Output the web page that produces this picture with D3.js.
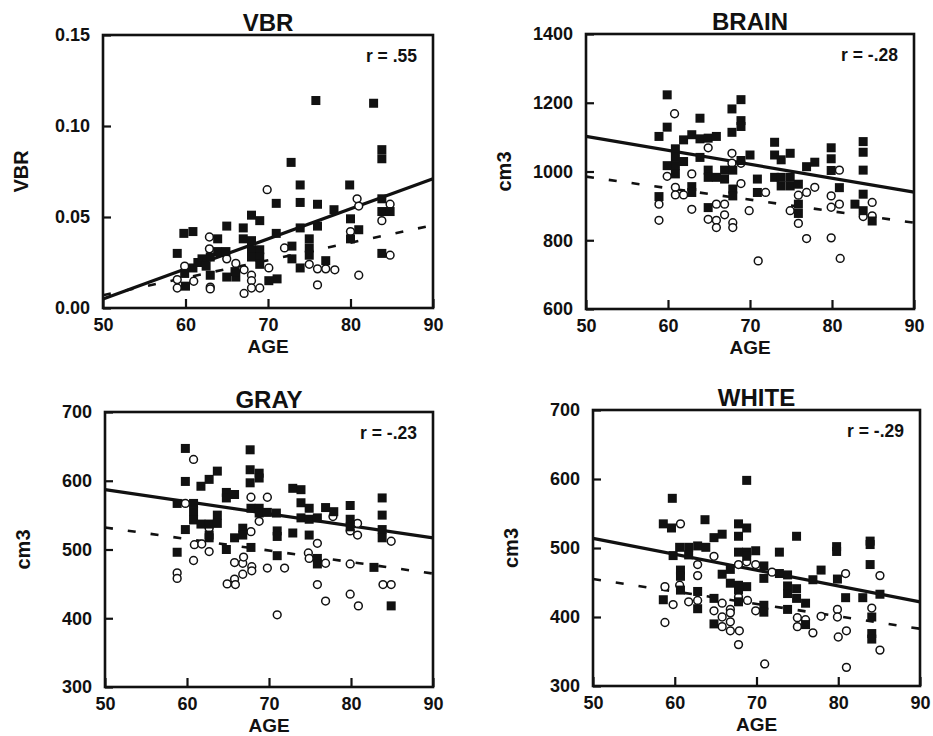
<!DOCTYPE html>
<html>
<head>
<meta charset="utf-8">
<script src="https://cdn.jsdelivr.net/npm/d3@7"></script>
<style>
  body { margin: 0; background: #fff; }
  svg text { font-family: "Liberation Sans", Arial, sans-serif; font-weight: bold; fill: #111; }
</style>
</head>
<body>
<div id="chart"></div>
<script>
// ---- data: [age, value] ----
const ageTicks = [50, 60, 70, 80, 90];

const vbrFilled = [[75.8,0.114],[82.8,0.1125],[83.8,0.087],[83.8,0.082],[72.8,0.080],[73.9,0.0676],[79.9,0.0676],
  [71.0,0.0575],[73.9,0.058],[76.0,0.057],[78.0,0.054],[83.8,0.060],[83.8,0.053],[84.8,0.053],[80.0,0.049],
  [68.0,0.051],[69.0,0.048],[65.0,0.045],[67.0,0.044],[59.8,0.041],[60.9,0.042],[71.0,0.041],[73.9,0.044],
  [76.0,0.045],[81.0,0.043],[80.0,0.038],[63.9,0.038],[67.0,0.038],[68.0,0.037],[75.0,0.038],[75.0,0.033],
  [75.0,0.029],[72.9,0.034],[59.0,0.030],[63.9,0.031],[64.9,0.031],[68.0,0.032],[69.0,0.032],[68.0,0.028],
  [69.0,0.028],[69.0,0.024],[63.0,0.028],[62.0,0.027],[83.8,0.030],[72.9,0.027],[73.9,0.022],[77.0,0.026],
  [60.9,0.022],[59.9,0.019],[63.0,0.018],[65.0,0.017],[66.1,0.017],[71.1,0.016],[70.1,0.015],[60.0,0.012],
  [61.5,0.025],[62.5,0.023],[66.0,0.020]];
const vbrOpen = [[69.9,0.065],[80.8,0.060],[81.0,0.056],[84.8,0.057],[83.8,0.048],[80.0,0.042],[62.9,0.039],
  [62.9,0.0325],[72.0,0.033],[65.0,0.027],[66.1,0.0245],[67.1,0.021],[66.1,0.0199],[59.9,0.023],[70.1,0.022],
  [68.0,0.018],[68.0,0.015],[69.0,0.011],[68.0,0.011],[75.0,0.024],[76.0,0.0215],[77.0,0.0215],[78.1,0.021],
  [81.0,0.018],[76.0,0.0127],[67.1,0.008],[63.0,0.0115],[63.0,0.0105],[59.0,0.011],[59.0,0.0156],
  [61.0,0.0147],[84.8,0.029]];
const vbrFit = { filled: [0.005, 0.071], open: [0.007, 0.0455] }; // value at age 50 and 90

const brainFilled = [[59.9,1223],[58.9,1102],[59.9,1129],[60.9,1066],[60.9,1041],[60.9,1017],[60.9,993],[59.9,1017],
  [61.9,1092],[62.9,1107],[63.9,1095],[64.9,1097],[65.9,1102],[63.9,1155],[61.9,1029],[63.9,1041],[62.9,956],
  [62.9,939],[58.9,927],[64.9,1004],[64.9,983],[65.9,983],[66.9,978],[66.9,1004],[67.9,1004],[67.9,949],
  [67.9,929],[64.9,895],[67.8,1182],[68.9,1209],[67.8,1114],[68.9,1148],[68.9,1131],[68.9,1032],[70.0,1048],
  [70.9,978],[70.9,939],[73.0,1085],[73.0,1048],[73.8,1034],[74.9,1053],[73.0,983],[73.8,983],[73.8,958],
  [74.9,983],[74.9,958],[75.9,963],[75.9,905],[75.9,878],[76.9,1014],[77.9,1027],[79.9,1069],[79.9,1037],
  [79.9,1003],[80.9,953],[83.8,1087],[83.8,1056],[83.8,1004],[83.8,934],[82.8,905],[83.8,886],[84.9,856]];
const brainOpen = [[60.8,1168],[59.9,986],[60.9,954],[60.9,932],[61.9,932],[58.9,905],[58.9,858],[62.9,993],
  [62.9,890],[64.9,1069],[67.8,1053],[67.8,1024],[68.9,1024],[68.9,965],[65.9,905],[66.9,905],[66.9,874],
  [65.9,858],[65.9,837],[64.9,861],[67.9,851],[67.9,837],[69.9,886],[71.9,939],[71.0,740],[74.9,886],
  [75.9,931],[76.9,939],[77.9,954],[75.9,849],[76.9,805],[79.9,929],[79.9,896],[80.9,905],[80.9,1004],
  [79.9,807],[81.0,747],[83.8,869],[84.9,910],[84.9,871]];
const brainFit = { filled: [1102, 940], open: [985, 851] };

const grayFilled = [[59.8,647],[67.7,645],[59.8,599],[61.7,592],[62.7,602],[63.7,614],[67.7,616],[67.7,597],
  [68.8,611],[68.8,604],[64.8,583],[64.8,575],[65.8,580],[58.8,567],[60.8,567],[60.8,555],[60.8,543],
  [61.7,537],[62.7,537],[63.7,550],[63.7,538],[59.8,529],[58.8,496],[62.7,521],[62.7,517],[65.8,517],
  [66.8,531],[66.8,521],[64.8,500],[67.8,503],[67.8,560],[68.8,560],[68.8,553],[69.8,554],[70.9,553],
  [71.0,527],[71.0,519],[71.0,491],[72.9,589],[73.9,587],[73.9,568],[74.9,560],[73.9,546],[74.9,544],
  [74.9,521],[75.9,546],[72.9,524],[75.9,487],[75.9,479],[76.9,561],[77.9,555],[79.9,564],[79.9,544],
  [79.9,533],[82.8,474],[83.8,575],[83.8,550],[83.8,529],[83.8,517],[84.9,418]];
const grayOpen = [[60.8,631],[59.8,567],[67.8,576],[69.8,576],[68.8,541],[67.8,526],[62.7,531],[60.9,507],
  [61.8,508],[62.7,497],[60.8,484],[58.8,466],[58.8,458],[65.8,481],[66.8,480],[66.9,489],[67.9,475],
  [67.9,469],[66.8,464],[65.8,457],[64.9,450],[65.9,449],[69.8,473],[71.9,473],[71.0,405],[75.9,509],
  [74.8,495],[74.9,487],[76.9,480],[75.9,449],[76.9,425],[77.8,548],[79.9,527],[80.8,538],[80.8,521],
  [79.9,479],[79.9,435],[80.9,418],[83.9,449],[84.9,449],[84.9,512]];
const grayFit = { filled: [587, 517], open: [532, 465] };

const whiteFilled = [[68.8,598],[59.7,572],[58.6,535],[59.6,529],[63.7,541],[64.8,515],[65.8,520],[67.8,535],
  [67.8,517],[68.8,529],[60.6,501],[61.7,501],[62.8,503],[63.8,501],[61.7,490],[59.8,489],[74.9,517],
  [67.8,494],[68.8,494],[69.9,496],[68.8,488],[72.8,494],[79.8,502],[79.8,495],[83.9,510],[83.9,505],
  [60.7,468],[60.7,459],[60.7,439],[58.6,425],[62.8,437],[62.8,412],[65.8,462],[66.8,469],[66.8,449],
  [67.8,446],[68.8,444],[67.8,439],[67.8,422],[64.8,427],[64.8,390],[70.9,474],[70.9,456],[70.9,417],
  [70.9,407],[72.8,463],[73.8,461],[73.8,445],[73.8,434],[74.9,441],[74.9,427],[76.0,420],[73.8,411],
  [76.9,454],[77.9,468],[79.9,455],[80.9,428],[83.0,428],[85.1,433],[83.9,476],[84.1,400],[84.1,376],
  [84.1,368],[76.0,389]];
const whiteOpen = [[60.7,535],[64.8,488],[62.8,476],[62.8,460],[60.6,446],[58.8,444],[59.8,418],[58.8,392],
  [61.7,422],[62.8,424],[65.8,420],[64.8,409],[65.8,400],[66.8,411],[66.8,406],[66.8,393],[65.8,386],
  [66.8,380],[67.9,380],[67.8,360],[67.8,476],[68.8,480],[69.9,476],[68.9,424],[67.8,429],[69.9,409],
  [71.9,465],[71.0,332],[75.0,399],[75.0,386],[76.0,396],[76.9,377],[77.9,401],[80.9,463],[79.9,411],
  [79.9,400],[80.0,371],[81.0,380],[81.0,327],[85.1,460],[84.1,413],[85.1,352]];
const whiteFit = { filled: [514, 422], open: [455, 383] };

// ---- panels ----
const panels = [
  { title: "VBR",   yLabel: "VBR", r: "r = .55",  yTicks: [0, 0.05, 0.10, 0.15], fmt: d3.format(".2f"),
    filled: vbrFilled, open: vbrOpen, fit: vbrFit,
    box: { x0: 103, x1: 433, y0: 35, y1: 308 } },
  { title: "BRAIN", yLabel: "cm3", r: "r = -.28", yTicks: [600, 800, 1000, 1200, 1400], fmt: d3.format("d"),
    filled: brainFilled, open: brainOpen, fit: brainFit,
    box: { x0: 586, x1: 914, y0: 34, y1: 309 } },
  { title: "GRAY",  yLabel: "cm3", r: "r = -.23", yTicks: [300, 400, 500, 600, 700], fmt: d3.format("d"),
    filled: grayFilled, open: grayOpen, fit: grayFit,
    box: { x0: 105, x1: 433, y0: 412, y1: 687 } },
  { title: "WHITE", yLabel: "cm3", r: "r = -.29", yTicks: [300, 400, 500, 600, 700], fmt: d3.format("d"),
    filled: whiteFilled, open: whiteOpen, fit: whiteFit,
    box: { x0: 593, x1: 920, y0: 410, y1: 686 } }
];

const svg = d3.select("#chart").append("svg")
    .attr("width", 933)
    .attr("height", 736);

panels.forEach(function (p) {
    const b = p.box;
    const x = d3.scaleLinear().domain([50, 90]).range([b.x0, b.x1]);
    const y = d3.scaleLinear().domain(d3.extent(p.yTicks)).range([b.y1, b.y0]);
    const g = svg.append("g");

    // axes, ticks pointing inward
    const xAxis = g.append("g")
        .attr("transform", "translate(0," + b.y1 + ")")
        .call(d3.axisBottom(x).tickValues(ageTicks).tickSizeInner(-9).tickSizeOuter(0).tickPadding(10));
    const yAxis = g.append("g")
        .attr("transform", "translate(" + b.x0 + ",0)")
        .call(d3.axisLeft(y).tickValues(p.yTicks).tickFormat(p.fmt).tickSizeInner(-8).tickSizeOuter(0).tickPadding(13));
    [xAxis, yAxis].forEach(function (a) {
        a.select(".domain").remove();
        a.selectAll(".tick line").attr("stroke", "#111").attr("stroke-width", 2.2);
        a.selectAll(".tick text").style("font-size", "18px").attr("fill", "#111");
    });

    // regression lines
    const line = d3.line().x(d => x(d[0])).y(d => y(d[1]));
    g.append("path")
        .datum([[50, p.fit.open[0]], [90, p.fit.open[1]]])
        .attr("d", line)
        .attr("fill", "none")
        .attr("stroke", "#111")
        .attr("stroke-width", 2.6)
        .attr("stroke-dasharray", "8,15");
    g.append("path")
        .datum([[50, p.fit.filled[0]], [90, p.fit.filled[1]]])
        .attr("d", line)
        .attr("fill", "none")
        .attr("stroke", "#111")
        .attr("stroke-width", 3.2);

    // points
    g.selectAll(".open").data(p.open).join("circle")
        .attr("class", "open")
        .attr("cx", d => x(d[0]))
        .attr("cy", d => y(d[1]))
        .attr("r", 3.9)
        .attr("fill", "#fff")
        .attr("stroke", "#111")
        .attr("stroke-width", 1.5);
    const s = 9;
    g.selectAll(".filled").data(p.filled).join("rect")
        .attr("class", "filled")
        .attr("x", d => x(d[0]) - s / 2)
        .attr("y", d => y(d[1]) - s / 2)
        .attr("width", s)
        .attr("height", s)
        .attr("fill", "#111");

    // frame
    g.append("rect")
        .attr("x", b.x0).attr("y", b.y0)
        .attr("width", b.x1 - b.x0).attr("height", b.y1 - b.y0)
        .attr("fill", "none")
        .attr("stroke", "#111")
        .attr("stroke-width", 2.6);

    // texts
    const cx = (b.x0 + b.x1) / 2;
    g.append("text")
        .attr("x", cx).attr("y", b.y0 - 4)
        .attr("text-anchor", "middle")
        .style("font-size", "24px")
        .text(p.title);
    g.append("text")
        .attr("x", cx).attr("y", b.y1 + 45)
        .attr("text-anchor", "middle")
        .style("font-size", "19px")
        .text("AGE");
    g.append("text")
        .attr("transform", "translate(" + (b.x0 - 75) + "," + ((b.y0 + b.y1) / 2) + ") rotate(-90)")
        .attr("text-anchor", "middle")
        .style("font-size", "20px")
        .text(p.yLabel);
    g.append("text")
        .attr("x", b.x1 - 16).attr("y", b.y0 + 27)
        .attr("text-anchor", "end")
        .style("font-size", "17.5px")
        .text(p.r);
});
</script>
</body>
</html>
